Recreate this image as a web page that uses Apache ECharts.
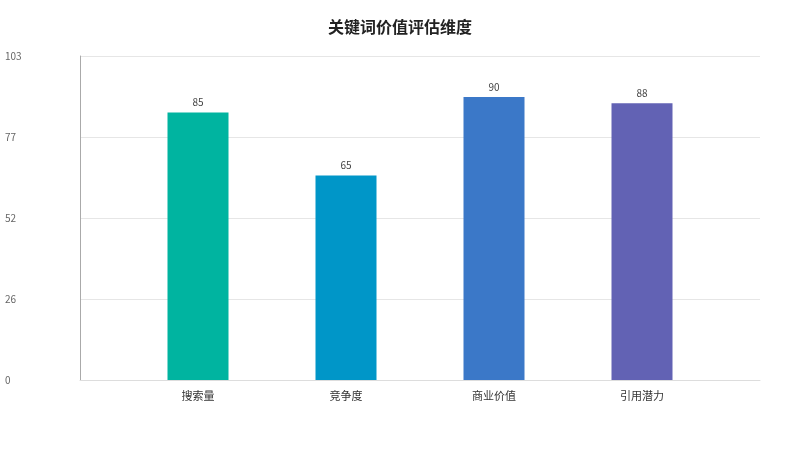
<!DOCTYPE html><html><head><meta charset="utf-8"><script src="https://cdn.jsdelivr.net/npm/echarts@6/dist/echarts.min.js"></script></head><body style="margin:0"><div id="c" style="width:800px;height:450px"></div><script>
const categories=['搜索量','竞争度','商业价值','引用潜力'];
const values=[85,65,90,88];
const colors=['#00b4a0','#0096c8','#3b78c8','#6262b4'];
const yMax=103;
const c=echarts.init(document.getElementById('c'));
const ff='"Noto Sans CJK SC","Noto Sans",sans-serif';
c.setOption({
 textStyle:{fontFamily:ff},
 title:{text:'关键词价值评估维度',left:'center',top:14,textStyle:{fontSize:16,fontWeight:'bold',color:'#222',fontFamily:ff}},
 grid:[{left:80,right:40,top:56,bottom:70},{left:124,right:84,top:56,bottom:70}],
 xAxis:[{type:'category',gridIndex:0,data:[''],axisLine:{lineStyle:{color:'#ddd'}},axisTick:{show:false},axisLabel:{show:false}},
  {type:'category',gridIndex:1,data:categories,axisLine:{show:false},axisTick:{show:false},axisLabel:{color:'#333',fontSize:11,margin:10}}],
 yAxis:[{type:'value',gridIndex:0,min:0,max:yMax,interval:yMax/4,axisLine:{show:true,lineStyle:{color:'#aaa'}},axisTick:{show:false},
  splitLine:{lineStyle:{color:'#e6e6e6'}},axisLabel:{color:'#666',fontSize:10,align:'left',margin:75,formatter:v=>Math.round(v)}},
  {type:'value',gridIndex:1,min:0,max:yMax,show:false}],
 series:[{type:'bar',xAxisIndex:1,yAxisIndex:1,barWidth:61,data:values.map((v,i)=>({value:v,itemStyle:{color:colors[i]}})),
  label:{show:true,position:'top',color:'#444',fontSize:10}}]
});
</script></body></html>
